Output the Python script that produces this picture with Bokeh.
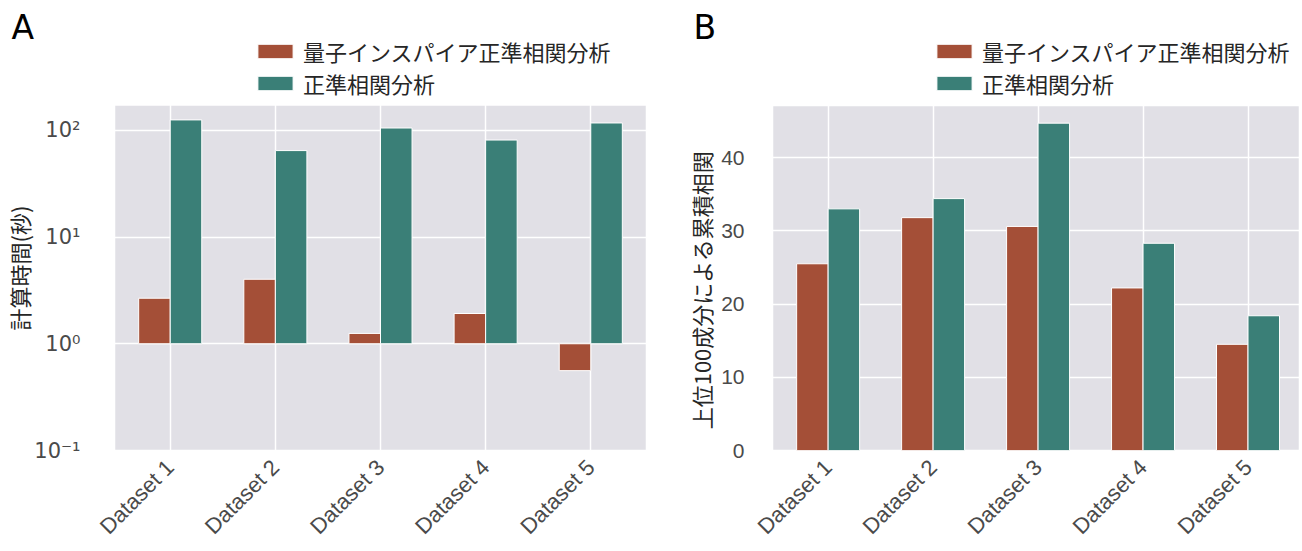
import math
from bokeh.plotting import figure
from bokeh.models import (ColumnDataSource, FixedTicker, Range1d, Legend, LegendItem, BoxAnnotation)
from bokeh.layouts import row
from bokeh.embed import file_html
from bokeh.resources import INLINE

# ---- data ----
datasets = ["Dataset 1", "Dataset 2", "Dataset 3", "Dataset 4", "Dataset 5"]
series_names = ["量子インスパイア正準相関分析", "正準相関分析"]
time_qi = [2.67, 4.02, 1.25, 1.92, 0.56]
time_cca = [125.0, 64.5, 105.0, 81.0, 117.0]
corr_qi = [25.5, 31.8, 30.6, 22.2, 14.5]
corr_cca = [33.0, 34.4, 44.7, 28.3, 18.4]
log_ticks = [0.1, 1, 10, 100]
log_tick_labels = ["10⁻¹", "10⁰", "10¹", "10²"]
lin_ticks = [0, 10, 20, 30, 40]
ylabel_a = "計算時間(秒)"
ylabel_b = "上位100成分による累積相関"

RED = "#A44F37"
GREEN = "#3A7F77"
BG = "#E1E0E6"
TICK_COL = "#4a4a4a"
LAB_COL = "#262626"
CJK = "Noto Sans CJK JP"

idx = list(range(len(datasets)))
xq = [i - 0.15 for i in idx]
xc = [i + 0.15 for i in idx]

FRAME_TOP = 30      # px from top of figure to top of (extended) frame
FRAME_BOTTOM = 451  # px from top of figure to bottom of frame
FIG_H = 550
# non-collapsing padding so that the axis label centres on the axes region
PAD_A = "\u3000\u3000\u2002"
PAD_B = "\u3000\u3000\u3000\u3000\u2002"


def style(p, panel_letter, title_offset, data_top):
    p.background_fill_color = BG
    p.border_fill_color = "white"
    p.outline_line_color = "white"
    p.outline_line_width = 1.5
    for g in (p.xgrid, p.ygrid):
        g.grid_line_color = "white"
        g.grid_line_width = 1.5
    for ax in (p.xaxis, p.yaxis):
        ax.axis_line_color = None
        ax.major_tick_line_color = None
        ax.minor_tick_line_color = None
        ax.major_label_text_color = TICK_COL
        ax.axis_label_text_color = LAB_COL
        ax.axis_label_text_font = CJK
        ax.axis_label_text_font_size = "22px"
        ax.axis_label_text_font_style = "normal"
    p.xaxis.ticker = FixedTicker(ticks=idx)
    p.xaxis.major_label_overrides = {i: d for i, d in enumerate(datasets)}
    p.xaxis.major_label_orientation = math.pi / 4
    p.xaxis.major_label_text_font = "Liberation Sans"
    p.xaxis.major_label_text_font_size = "22px"
    p.xaxis.major_label_standoff = 7
    p.title.text = panel_letter
    p.title.text_font = "DejaVu Sans"
    p.title.text_font_size = "33px"
    p.title.text_font_style = "normal"
    p.title.text_color = "black"
    p.title.align = "left"
    p.title.offset = title_offset
    p.title.standoff = -32
    # white area above the axes region (holds the legend)
    p.add_layout(BoxAnnotation(bottom=data_top, fill_color="white", fill_alpha=1.0,
                               line_color=None))


def add_legend(p, r1, r2, vx, vy):
    leg = Legend(items=[LegendItem(label=series_names[0], renderers=[r1]),
                        LegendItem(label=series_names[1], renderers=[r2])],
                 location=(vx, vy))
    leg.label_text_font = CJK
    leg.label_text_font_size = "22px"
    leg.label_text_color = LAB_COL
    leg.glyph_width = 44
    leg.glyph_height = 18
    leg.label_height = 32
    leg.label_standoff = 6
    leg.spacing = 0
    leg.padding = 0
    leg.margin = 0
    leg.border_line_color = None
    leg.background_fill_alpha = 0
    p.add_layout(leg, "center")


# ---- Panel A ----
A_TOP = 170.0
decade_px = 107.0
a_range_top = 10 ** (-1 + (FRAME_BOTTOM - FRAME_TOP) / decade_px)
srcA = ColumnDataSource(dict(xq=xq, xc=xc, q=time_qi, c=time_cca))
pA = figure(width=650, height=FIG_H, y_axis_type="log",
            x_range=Range1d(-0.53, 4.53), y_range=Range1d(0.1, a_range_top),
            output_backend="svg", toolbar_location=None,
            min_border_left=114, min_border_right=4,
            min_border_top=FRAME_TOP, min_border_bottom=FIG_H - FRAME_BOTTOM)
rA1 = pA.vbar(x="xq", top="q", bottom=1, width=0.3, source=srcA,
              fill_color=RED, line_color="white", line_width=1)
rA2 = pA.vbar(x="xc", top="c", bottom=1, width=0.3, source=srcA,
              fill_color=GREEN, line_color="white", line_width=1)
style(pA, "A", -103, A_TOP)
pA.yaxis.ticker = FixedTicker(ticks=log_ticks, minor_ticks=[])
pA.yaxis.major_label_overrides = {t: l for t, l in zip(log_ticks, log_tick_labels)}
pA.yaxis.major_label_text_font = "DejaVu Sans"
pA.yaxis.major_label_text_font_size = "21px"
pA.yaxis.major_label_standoff = 28
pA.yaxis.axis_label = ylabel_a + PAD_A
pA.yaxis.axis_label_standoff = -4
add_legend(pA, rA1, rA2, 139, FRAME_BOTTOM - 100)

# ---- Panel B ----
B_TOP = 47.0
unit_px = 7.34
b_range_top = (FRAME_BOTTOM - FRAME_TOP) / unit_px
srcB = ColumnDataSource(dict(xq=xq, xc=xc, q=corr_qi, c=corr_cca))
pB = figure(width=650, height=FIG_H,
            x_range=Range1d(-0.53, 4.50), y_range=Range1d(0, b_range_top),
            output_backend="svg", toolbar_location=None,
            min_border_left=122, min_border_right=0,
            min_border_top=FRAME_TOP, min_border_bottom=FIG_H - FRAME_BOTTOM)
rB1 = pB.vbar(x="xq", top="q", bottom=0, width=0.3, source=srcB,
              fill_color=RED, line_color="white", line_width=1)
rB2 = pB.vbar(x="xc", top="c", bottom=0, width=0.3, source=srcB,
              fill_color=GREEN, line_color="white", line_width=1)
style(pB, "B", -79, B_TOP)
pB.yaxis.ticker = FixedTicker(ticks=lin_ticks, minor_ticks=[])
pB.yaxis.major_label_text_font = "Liberation Sans"
pB.yaxis.major_label_text_font_size = "21px"
pB.yaxis.major_label_standoff = 22
pB.yaxis.axis_label = ylabel_b + PAD_B
pB.yaxis.axis_label_standoff = 1
add_legend(pB, rB1, rB2, 160, FRAME_BOTTOM - 100)

layout = row(pA, pB)
open("out.html", "w").write(file_html(layout, INLINE))
